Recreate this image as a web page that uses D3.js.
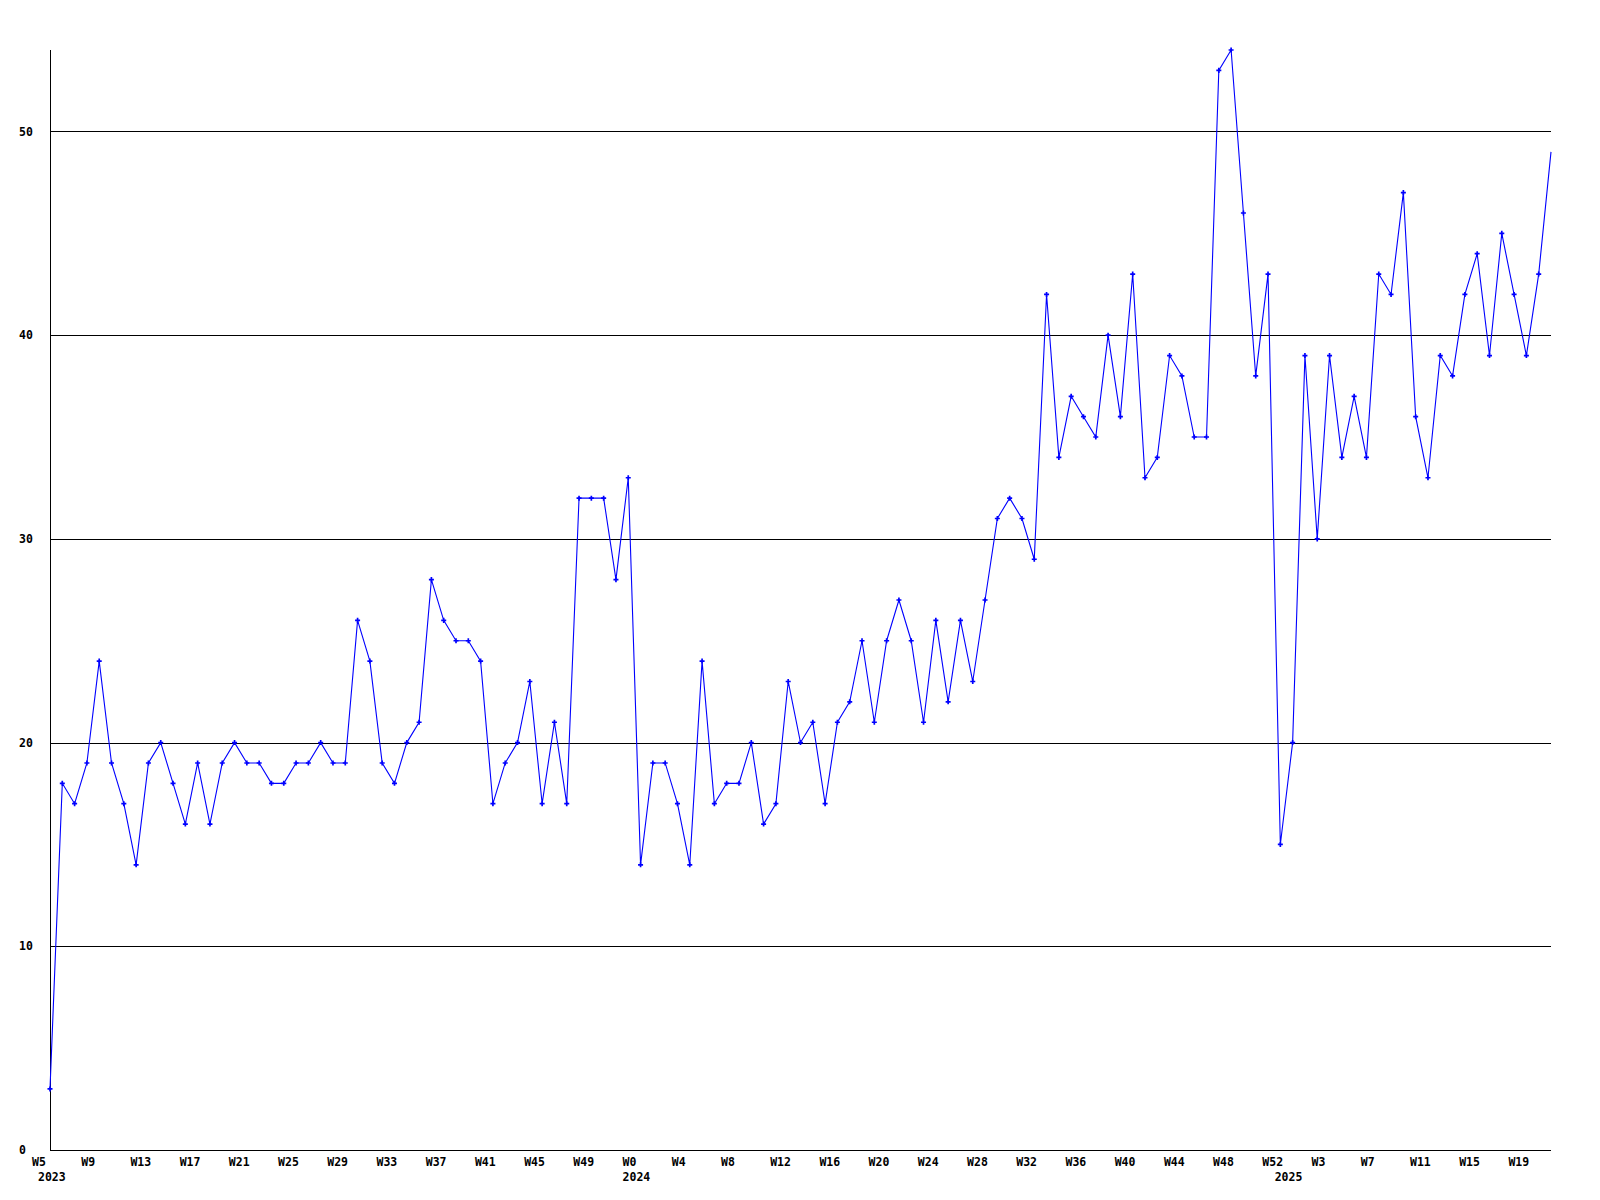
<!DOCTYPE html>
<html>
<head>
<meta charset="utf-8">
<script src="https://cdn.jsdelivr.net/npm/d3@7"></script>
<style>
  html, body { margin: 0; padding: 0; background: #fff; }
  svg { display: block; }
  text { font-family: "DejaVu Sans Mono", "Liberation Mono", monospace; font-weight: bold; font-size: 11.5px; fill: #000; }
</style>
</head>
<body>
<svg id="chart" width="1600" height="1200"></svg>
<script>
// ---- data ----
const years = [2023, 2024, 2025];
const weeks2023 = d3.range(5, 53);   // W5..W52
const weeks2024 = d3.range(0, 53);   // W0..W52
const weeks2025 = d3.range(0, 22);   // W0..W21

const values2023 = [3,18,17,19,24,19,17,14,19,20,18,16,19,16,19,20,19,19,18,18,19,19,20,19,19,26,24,19,18,20,21,28,26,25,25,24,17,19,20,23,17,21,17,32,32,32,28,33];
const values2024 = [14,19,19,17,14,24,17,18,18,20,16,17,23,20,21,17,21,22,25,21,25,27,25,21,26,22,26,23,27,31,32,31,29,42,34,37,36,35,40,36,43,33,34,39,38,35,35,53,54,46,38,43,15];
const values2025 = [20,39,30,39,34,37,34,43,42,47,36,33,39,38,42,44,39,45,42,39,43,49];

const yTicks = [0, 10, 20, 30, 40, 50];
const gridValues = [10, 20, 30, 40, 50];
const labelEvery = 4;

// build records
const series = [];
[[2023, weeks2023, values2023], [2024, weeks2024, values2024], [2025, weeks2025, values2025]].forEach(([yr, wk, vals]) => {
  wk.forEach((w, k) => series.push({ year: yr, week: w, value: vals[k], first: k === 0 }));
});
series.forEach((d, i) => d.i = i);

// ---- layout ----
const mLeft = 50, mRight = 1551, mTop = 50, mBottom = 1150;
const svg = d3.select("#chart");

const x = d3.scaleLinear().domain([0, series.length - 1]).range([mLeft, mRight]);
const y = d3.scaleLinear().domain([0, 54]).range([mBottom, mTop]);

svg.append("defs").append("clipPath").attr("id", "plotclip")
  .append("rect").attr("x", mLeft - 4).attr("y", mTop - 4).attr("width", mRight - mLeft + 4).attr("height", mBottom - mTop + 8);

// gridlines
svg.append("g").selectAll("line").data(gridValues).join("line")
  .attr("x1", mLeft).attr("x2", mRight)
  .attr("y1", d => Math.round(y(d)) + 0.5).attr("y2", d => Math.round(y(d)) + 0.5)
  .attr("stroke", "#000").attr("stroke-width", 1).attr("shape-rendering", "crispEdges");

// axes lines
svg.append("line").attr("x1", mLeft + 0.5).attr("x2", mLeft + 0.5).attr("y1", mTop).attr("y2", mBottom + 0.5)
  .attr("stroke", "#000").attr("shape-rendering", "crispEdges");
svg.append("line").attr("x1", mLeft).attr("x2", mRight).attr("y1", mBottom + 0.5).attr("y2", mBottom + 0.5)
  .attr("stroke", "#000").attr("shape-rendering", "crispEdges");

// y labels
svg.append("g").selectAll("text").data(yTicks).join("text")
  .attr("x", 19).attr("y", d => y(d)).attr("dy", "0.35em")
  .attr("text-anchor", "start")
  .text(d => d);

// x labels
const labelData = series.filter(d => d.week % labelEvery === (d.year === 2023 ? 1 : (d.year === 2024 ? 0 : 3)));
svg.append("g").selectAll("text").data(labelData).join("text")
  .attr("x", d => x(d.i) - 18).attr("y", 1166)
  .attr("text-anchor", "start")
  .text(d => "W" + d.week);

svg.append("g").selectAll("text").data(series.filter(d => d.first)).join("text")
  .attr("x", d => x(d.i) - (d.year === 2023 ? 12 : 18)).attr("y", 1181)
  .attr("text-anchor", "start")
  .text(d => d.year);

// line
const line = d3.line().x(d => x(d.i)).y(d => y(d.value));
svg.append("path").datum(series)
  .attr("d", line)
  .attr("fill", "none").attr("stroke", "#0000ff").attr("stroke-width", 1.1);

// markers
const sym = d3.symbol().type(d3.symbolCross).size(14);
svg.append("g").attr("clip-path", "url(#plotclip)")
  .selectAll("path").data(series.slice(0, series.length - 1)).join("path")
  .attr("transform", d => `translate(${x(d.i)},${y(d.value)})`)
  .attr("d", sym)
  .attr("fill", "#0000ff");
</script>
</body>
</html>
